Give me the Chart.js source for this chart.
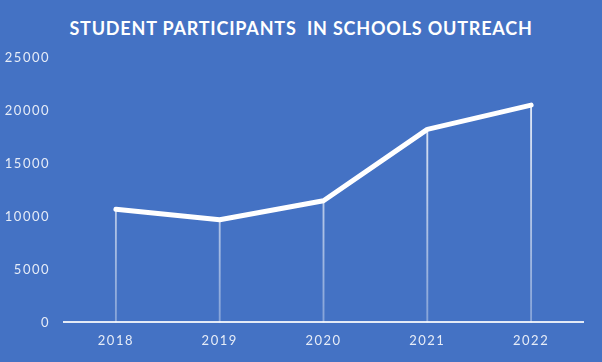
<!DOCTYPE html>
<html lang="en">
  <head>
    <meta charset="UTF-8" />
    <title>Student Participants in Schools Outreach</title>
    <script src="https://cdn.jsdelivr.net/npm/chart.js"></script>
    <style>
      html, body { margin: 0; padding: 0; background: #4472c4; }
      .wrap { position: relative; width: 602px; height: 362px; }
      .title {
        position: absolute; left: 0; top: 17px; width: 602px;
        text-align: center; color: #ffffff;
        font: bold 18px Lato, sans-serif; letter-spacing: 0.8px;
        white-space: pre;
      }
      canvas { position: absolute; left: 0; top: 0; }
    </style>
  </head>
  <body>
    <div class="wrap">
      <div class="title">STUDENT PARTICIPANTS  IN SCHOOLS OUTREACH</div>
      <canvas id="chart" width="602" height="362"></canvas>
    </div>

    <script>
      const years = ["2018", "2019", "2020", "2021", "2022"];
      const participants = [10700, 9700, 11500, 18250, 20550];
      const yMax = 25000;
      const yStep = 5000;

      const tickColor = "#e6ecf7";

      // faint vertical drop line from each point down to the axis
      const dropColor = (c) => {
        const area = c.chart.chartArea;
        if (!area) return "rgba(255,255,255,0.6)";
        const g = c.chart.ctx.createLinearGradient(0, area.top, 0, area.bottom);
        g.addColorStop(0, "rgba(255,255,255,0.95)");
        g.addColorStop(1, "rgba(255,255,255,0.35)");
        return g;
      };

      const spacing = {
        id: "spacing",
        beforeDraw(chart) {
          chart.ctx.letterSpacing = "1.5px";
        },
      };

      new Chart(document.getElementById("chart"), {
        data: {
          labels: years,
          datasets: [
            {
              type: "line",
              data: participants,
              borderColor: "#ffffff",
              borderWidth: 5,
              borderCapStyle: "round",
              borderJoinStyle: "round",
              pointRadius: 0,
              tension: 0,
              order: 0,
            },
            {
              type: "bar",
              data: participants,
              backgroundColor: dropColor,
              barThickness: 1.2,
              order: 1,
            },
          ],
        },
        options: {
          responsive: false,
          animation: false,
          layout: { padding: { left: 0, right: 19, top: 58, bottom: 2 } },
          plugins: {
            legend: { display: false },
            tooltip: { enabled: false },
          },
          scales: {
            x: {
              offset: true,
              grid: { display: false, drawTicks: false },
              border: { color: "rgba(255,255,255,0.85)", width: 2 },
              ticks: {
                color: tickColor,
                padding: 11,
                font: { family: "Lato", size: 13 },
              },
            },
            y: {
              min: 0,
              max: yMax,
              afterFit(scale) {
                scale.width = 64;
              },
              grid: { display: false, drawTicks: false },
              border: { display: false },
              ticks: {
                stepSize: yStep,
                color: tickColor,
                padding: 14,
                font: { family: "Lato", size: 13 },
                callback: (v) => String(v),
              },
            },
          },
        },
        plugins: [spacing],
      });
    </script>
  </body>
</html>
